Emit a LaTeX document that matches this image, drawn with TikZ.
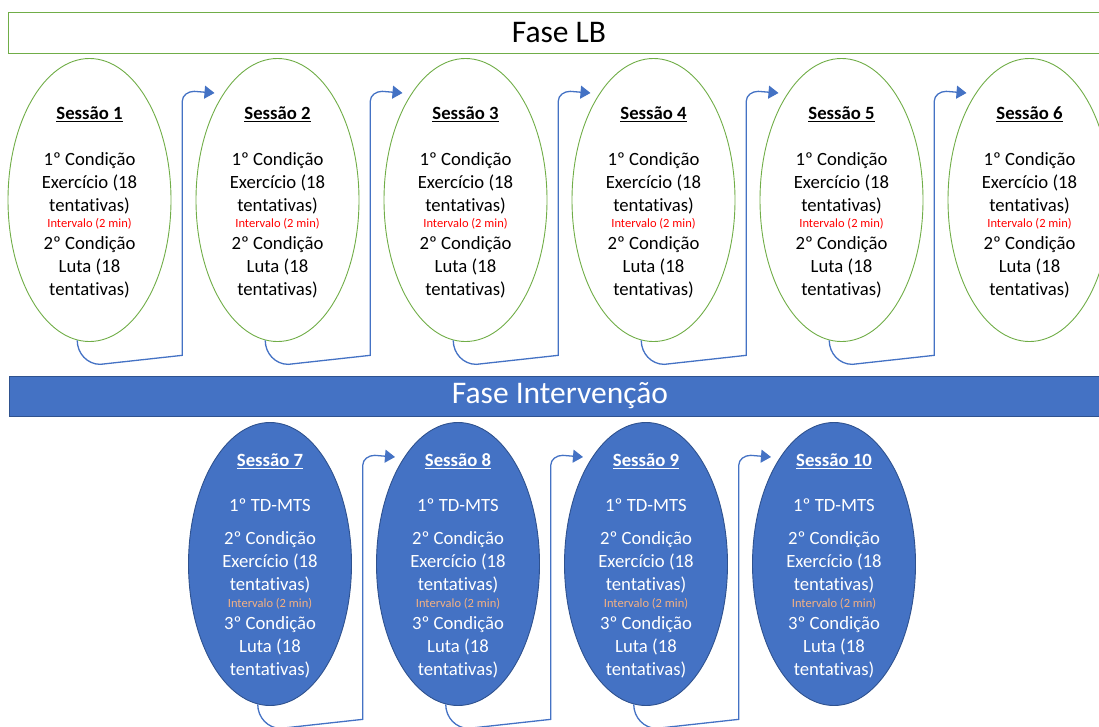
\documentclass[tikz,border=0pt]{standalone}
\usepackage{fontspec}
\setmainfont{Carlito}[Ligatures=NoCommon]
\usetikzlibrary{arrows.meta,shapes.geometric}

\definecolor{lbgreen}{HTML}{70AD47}
\definecolor{ivblue}{HTML}{4472C4}
\definecolor{ivline}{HTML}{2F528F}
\definecolor{ivorange}{HTML}{F4B183}

\begin{document}
\begin{tikzpicture}[
  x=1pt, y=1pt,
  font=\fontsize{18.7}{23}\selectfont,
  lbbar/.style={draw=lbgreen, line width=1pt, inner sep=0pt,
                minimum width=1102pt, minimum height=41pt, font=\fontsize{31.5}{36}\selectfont},
  ivbar/.style={draw=ivline, fill=ivblue, line width=1pt, inner sep=0pt, text=white,
                minimum width=1102pt, minimum height=40pt, font=\fontsize{31.5}{36}\selectfont},
  lbell/.style={ellipse, draw=lbgreen, line width=0.9pt, minimum width=163pt, minimum height=283pt},
  ivell/.style={ellipse, draw=ivline, fill=ivblue, line width=0.9pt, minimum width=163pt, minimum height=283pt},
  txt/.style={align=center, inner sep=0pt},
  ar/.style={draw=ivblue, line width=1.3pt, -{Triangle[length=10pt,width=13pt]}}
]
\useasboundingbox (0,0) rectangle (1099,-726);
\clip (0,0) rectangle (1099,-726);

% phase bars
\node[lbbar] (lb) at (559,-32.5) {Fase LB};
\node[ivbar] (iv) at (560,-396) {Fase Interven\c{c}\~ao};

% LB sessions
\node[lbell] (s1) at (89.5,-200)  {};
\node[lbell] (s2) at (277.5,-200) {};
\node[lbell] (s3) at (465.5,-200) {};
\node[lbell] (s4) at (653.5,-200) {};
\node[lbell] (s5) at (841.5,-200) {};
\node[lbell] (s6) at (1029.5,-200) {};
\node[txt] (t1) at ([yshift=-2.5pt]s1) {\underline{\textbf{Sessão 1}}\\[23pt]1º Condição\\Exercício (18\\tentativas)\\[-7pt]{\fontsize{12.5}{14}\selectfont\color{red}Intervalo (2 min)}\\[-1pt]2º Condição\\Luta (18\\tentativas)};
\node[txt] (t2) at ([yshift=-2.5pt]s2) {\underline{\textbf{Sessão 2}}\\[23pt]1º Condição\\Exercício (18\\tentativas)\\[-7pt]{\fontsize{12.5}{14}\selectfont\color{red}Intervalo (2 min)}\\[-1pt]2º Condição\\Luta (18\\tentativas)};
\node[txt] (t3) at ([yshift=-2.5pt]s3) {\underline{\textbf{Sessão 3}}\\[23pt]1º Condição\\Exercício (18\\tentativas)\\[-7pt]{\fontsize{12.5}{14}\selectfont\color{red}Intervalo (2 min)}\\[-1pt]2º Condição\\Luta (18\\tentativas)};
\node[txt] (t4) at ([yshift=-2.5pt]s4) {\underline{\textbf{Sessão 4}}\\[23pt]1º Condição\\Exercício (18\\tentativas)\\[-7pt]{\fontsize{12.5}{14}\selectfont\color{red}Intervalo (2 min)}\\[-1pt]2º Condição\\Luta (18\\tentativas)};
\node[txt] (t5) at ([yshift=-2.5pt]s5) {\underline{\textbf{Sessão 5}}\\[23pt]1º Condição\\Exercício (18\\tentativas)\\[-7pt]{\fontsize{12.5}{14}\selectfont\color{red}Intervalo (2 min)}\\[-1pt]2º Condição\\Luta (18\\tentativas)};
\node[txt] (t6) at ([yshift=-2.5pt]s6) {\underline{\textbf{Sessão 6}}\\[23pt]1º Condição\\Exercício (18\\tentativas)\\[-7pt]{\fontsize{12.5}{14}\selectfont\color{red}Intervalo (2 min)}\\[-1pt]2º Condição\\Luta (18\\tentativas)};

% intervention sessions
\node[ivell] (s7)  at (270,-564) {};
\node[ivell] (s8)  at (458,-564) {};
\node[ivell] (s9)  at (646,-564) {};
\node[ivell] (s10) at (834,-564) {};
\node[txt, text=white] (t7) at ([yshift=-2pt]s7) {\underline{\textbf{Sessão 7}}\\[22pt]1º TD-MTS\\[10pt]2º Condição\\Exercício (18\\tentativas)\\[-6pt]{\fontsize{12.5}{14}\selectfont\color{ivorange}Intervalo (2 min)}\\[-1pt]3º Condição\\Luta (18\\tentativas)};
\node[txt, text=white] (t8) at ([yshift=-2pt]s8) {\underline{\textbf{Sessão 8}}\\[22pt]1º TD-MTS\\[10pt]2º Condição\\Exercício (18\\tentativas)\\[-6pt]{\fontsize{12.5}{14}\selectfont\color{ivorange}Intervalo (2 min)}\\[-1pt]3º Condição\\Luta (18\\tentativas)};
\node[txt, text=white] (t9) at ([yshift=-2pt]s9) {\underline{\textbf{Sessão 9}}\\[22pt]1º TD-MTS\\[10pt]2º Condição\\Exercício (18\\tentativas)\\[-6pt]{\fontsize{12.5}{14}\selectfont\color{ivorange}Intervalo (2 min)}\\[-1pt]3º Condição\\Luta (18\\tentativas)};
\node[txt, text=white] (t10) at ([yshift=-2pt]s10) {\underline{\textbf{Sessão 10}}\\[22pt]1º TD-MTS\\[10pt]2º Condição\\Exercício (18\\tentativas)\\[-6pt]{\fontsize{12.5}{14}\selectfont\color{ivorange}Intervalo (2 min)}\\[-1pt]3º Condição\\Luta (18\\tentativas)};

% arrow ends
\coordinate (e2) at (214.5,-93);
\coordinate (e3) at (402.5,-93);
\coordinate (e4) at (590.5,-93);
\coordinate (e5) at (778.5,-93);
\coordinate (e6) at (966.5,-93);
\coordinate (e8) at (395,-457);
\coordinate (e9) at (583,-457);
\coordinate (e10) at (771,-457);

% connectors
\draw[ar] (s1.-95) to[out=-90,in=180] ++(23,-24) -- ++(82,9) -- ++(0,254) to[out=90,in=180] ++(12,10) -- (e2);
\draw[ar] (s2.-95) to[out=-90,in=180] ++(23,-24) -- ++(82,9) -- ++(0,254) to[out=90,in=180] ++(12,10) -- (e3);
\draw[ar] (s3.-95) to[out=-90,in=180] ++(23,-24) -- ++(82,9) -- ++(0,254) to[out=90,in=180] ++(12,10) -- (e4);
\draw[ar] (s4.-95) to[out=-90,in=180] ++(23,-24) -- ++(82,9) -- ++(0,254) to[out=90,in=180] ++(12,10) -- (e5);
\draw[ar] (s5.-95) to[out=-90,in=180] ++(23,-24) -- ++(82,9) -- ++(0,254) to[out=90,in=180] ++(12,10) -- (e6);
\draw[ar] (s7.-95) to[out=-90,in=180] ++(23,-24) -- ++(82,9) -- ++(0,254) to[out=90,in=180] ++(12,10) -- (e8);
\draw[ar] (s8.-95) to[out=-90,in=180] ++(23,-24) -- ++(82,9) -- ++(0,254) to[out=90,in=180] ++(12,10) -- (e9);
\draw[ar] (s9.-95) to[out=-90,in=180] ++(23,-24) -- ++(82,9) -- ++(0,254) to[out=90,in=180] ++(12,10) -- (e10);
\end{tikzpicture}
\end{document}
